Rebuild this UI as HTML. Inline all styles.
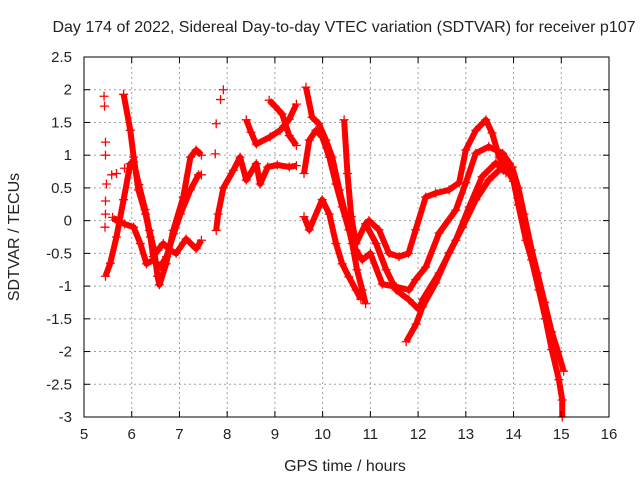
<!DOCTYPE html>
<html><head><meta charset="utf-8"><style>
body{margin:0;background:#fff}
svg{display:block}
text{font-family:"Liberation Sans",sans-serif;font-size:15px;fill:#222}
</style></head><body>
<svg id="chart" width="640" height="480">
<text x="344" y="32" text-anchor="middle" style="font-size:16px">Day 174 of 2022, Sidereal Day-to-day VTEC variation (SDTVAR) for receiver p107</text>
<text x="345" y="471" text-anchor="middle" style="font-size:16px">GPS time / hours</text>
<text transform="translate(19,237) rotate(-90)" text-anchor="middle" style="font-size:16px">SDTVAR / TECUs</text>
<g id="grid"></g><g id="marks"></g>
<rect x="84" y="57" width="525" height="360" fill="none" stroke="#000" stroke-width="1"/>
<g id="ticks"></g>
</svg>
<script>
const xTicks=[5,6,7,8,9,10,11,12,13,14,15,16];
const yTicks=[2.5,2,1.5,1,0.5,0,-0.5,-1,-1.5,-2,-2.5,-3];
const yTickLabels=["2.5","2","1.5","1","0.5","0","-0.5","-1","-1.5","-2","-2.5","-3"];
const track1=[[5.45,-0.85],[5.55,-0.65],[5.68,-0.25],[5.83,0.32],[5.97,0.87],[6.04,0.9],[6.15,0.55],[6.28,0.17],[6.37,-0.15],[6.47,-0.45],[6.54,-0.85],[6.58,-0.98],[6.72,-0.66],[6.87,-0.15],[7.08,0.36],[7.23,0.97],[7.35,1.08],[7.46,1.0]];
const track2=[[5.83,1.93],[5.97,1.38],[6.04,0.97],[6.14,0.47],[6.29,0.1],[6.39,-0.25],[6.45,-0.55],[6.55,-0.45],[6.66,-0.35],[6.8,-0.45],[6.93,-0.5],[7.14,-0.28],[7.35,-0.43],[7.46,-0.3]];
const track3=[[5.6,0.05],[5.68,0.0],[5.85,-0.05],[6.04,-0.1],[6.18,-0.35],[6.31,-0.66],[6.45,-0.6],[6.6,-0.7],[6.73,-0.55],[6.88,-0.2],[7.02,0.1],[7.23,0.47],[7.4,0.7],[7.46,0.7]];
const track4=[[5.42,1.9],[5.43,1.75],[5.45,1.2],[5.45,1.0],[5.47,0.56],[5.58,0.7],[5.68,0.72],[5.85,0.8],[5.97,0.87]];
const track5=[[5.45,0.3],[5.45,0.1],[5.44,-0.1]];
const track6=[[7.75,1.02],[7.77,1.48],[7.86,1.85],[7.92,2.0]];
const track7=[[7.77,-0.15],[7.81,0.1],[7.92,0.5],[8.13,0.77],[8.27,0.97],[8.4,0.62],[8.61,0.87],[8.69,0.56],[8.85,0.82],[9.05,0.85],[9.3,0.82],[9.45,0.84]];
const track8=[[8.4,1.54],[8.5,1.35],[8.61,1.17],[8.9,1.28],[9.11,1.38],[9.3,1.55],[9.45,1.78]];
const track9=[[8.88,1.84],[9.0,1.75],[9.15,1.63],[9.3,1.3],[9.45,1.15]];
const track10=[[9.65,2.04],[9.78,1.58],[9.92,1.48],[10.07,1.23],[10.2,0.97],[10.35,0.47],[10.49,0.06],[10.62,-0.35],[10.72,-0.75],[10.83,-1.06],[10.9,-1.27]];
const track11=[[9.61,0.72],[9.72,1.23],[9.86,1.38],[9.99,1.28],[10.14,0.97],[10.28,0.56],[10.41,0.21],[10.55,-0.14],[10.7,-0.45],[10.83,-0.6],[11.0,-0.5],[11.25,-0.97],[11.54,-1.01],[11.81,-1.06],[11.95,-0.9],[12.16,-0.71],[12.44,-0.19],[12.79,0.16],[13.0,0.58],[13.21,1.03],[13.48,1.13],[13.77,1.03],[13.97,0.82]];
const track12=[[9.61,0.06],[9.72,-0.14],[9.99,0.32],[10.14,0.1],[10.28,-0.35],[10.41,-0.66],[10.55,-0.86],[10.7,-1.06],[10.8,-1.2]];
const track13=[[10.45,1.54],[10.52,0.72],[10.6,0.06],[10.7,-0.35],[10.9,-0.05],[10.97,0.0],[11.18,-0.14],[11.39,-0.5],[11.6,-0.55],[11.8,-0.5],[11.95,-0.14],[12.16,0.36],[12.37,0.42],[12.65,0.47],[12.86,0.58],[13.0,1.08],[13.21,1.38],[13.42,1.54],[13.55,1.34],[13.7,0.97],[13.85,0.8]];
const track14=[[10.9,-0.05],[11.12,-0.35],[11.33,-0.75],[11.54,-1.06],[11.81,-1.21],[12.02,-1.36],[12.1,-1.2],[12.44,-0.8],[12.79,-0.3],[13.07,0.21],[13.34,0.67],[13.63,0.88],[13.84,0.73]];
const track15=[[11.75,-1.85],[11.96,-1.58],[12.09,-1.32],[12.37,-0.95],[12.65,-0.49],[12.93,-0.1],[13.21,0.32],[13.48,0.62],[13.77,0.82],[13.97,0.67]];
const track16=[[13.85,0.8],[14.0,0.6],[14.1,0.24],[14.26,-0.3],[14.38,-0.6],[14.53,-1.06],[14.67,-1.5],[14.8,-1.97],[14.95,-2.43],[15.02,-2.74],[15.02,-3.0]];
const track17=[[13.97,0.82],[14.1,0.5],[14.22,0.1],[14.38,-0.45],[14.5,-0.8],[14.65,-1.25],[14.8,-1.7],[14.93,-2.0],[15.05,-2.3]];
const tracks=[track1,track2,track3,track4,track5,track6,track7,track8,track9,track10,track11,track12,track13,track14,track15,track16,track17];

const L=84,R=609,T=57,B=417;
const sx=t=>L+(t-5)/(16-5)*(R-L);
const sy=v=>T+(2.5-v)/(5.5)*(B-T);
const NS="http://www.w3.org/2000/svg";
const grid=document.getElementById('grid'),ticks=document.getElementById('ticks'),marks=document.getElementById('marks');
function mk(tag,attrs,parent){const e=document.createElementNS(NS,tag);for(const k in attrs)e.setAttribute(k,attrs[k]);parent.appendChild(e);return e;}
xTicks.forEach((t,i)=>{
  const x=sx(t);
  if(i>0&&i<xTicks.length-1){const g=mk('line',{x1:x,x2:x,y1:T,y2:B,stroke:'#a0a0a0','stroke-dasharray':'2,3'},grid);
  
  }
  mk('line',{x1:x,x2:x,y1:B,y2:B-6,stroke:'#000'},ticks);
  mk('line',{x1:x,x2:x,y1:T,y2:T+6,stroke:'#000'},ticks);
  const tx=mk('text',{x:x,y:B+22,'text-anchor':'middle'},ticks);tx.textContent=t;
  
  
});
yTicks.forEach((v,i)=>{
  const y=sy(v);
  if(i>0&&i<yTicks.length-1){const g=mk('line',{x1:L,x2:R,y1:y,y2:y,stroke:'#a0a0a0','stroke-dasharray':'2,3'},grid);
  
  }
  mk('line',{x1:L,x2:L+6,y1:y,y2:y,stroke:'#000'},ticks);
  mk('line',{x1:R,x2:R-6,y1:y,y2:y,stroke:'#000'},ticks);
  const tx=mk('text',{x:L-12,y:y+5,'text-anchor':'end'},ticks);tx.textContent=yTickLabels[i];
  
  
});
tracks.forEach((tr,k)=>{
  const g=mk('g',{},marks);
  
  
  if(tr.length>1&&k!==3&&k!==4&&k!==5){
    mk('polyline',{points:tr.map(p=>sx(p[0])+','+sy(p[1])).join(' '),fill:'none',stroke:'#f00','stroke-width':6,'stroke-linejoin':'round'},g);
  }
  tr.forEach(p=>{
    const x=sx(p[0]),y=sy(p[1]);
    const m=mk('path',{d:`M${x-4.5},${y}H${x+4.5}M${x},${y-4.5}V${y+4.5}`,stroke:'#f00','stroke-width':1.3},g);
    
    
  });
});
</script>
</body></html>
